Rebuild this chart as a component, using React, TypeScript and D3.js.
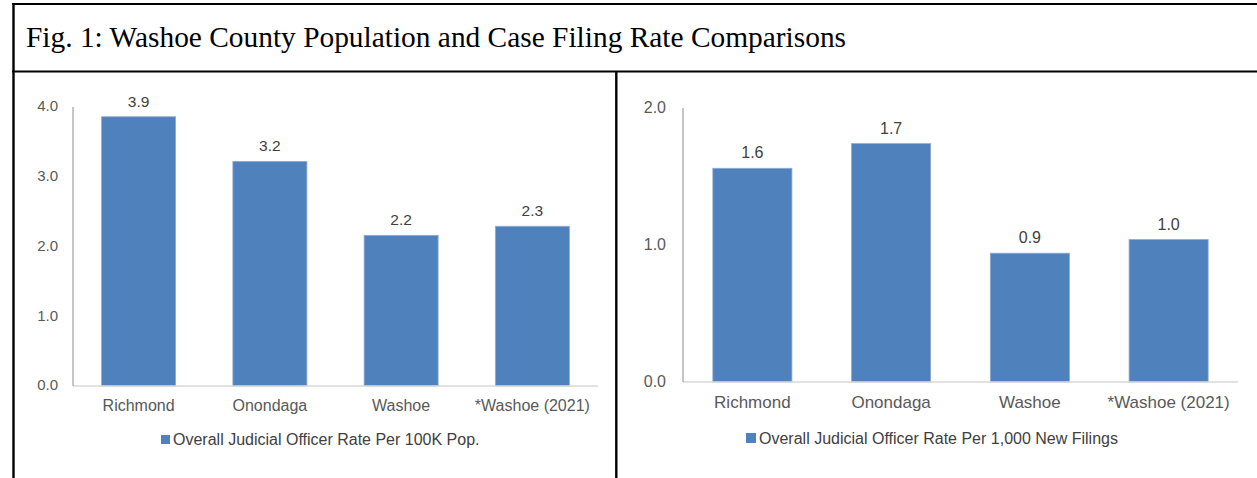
import React from "react";
import * as d3 from "d3";

const title = "Fig. 1: Washoe County Population and Case Filing Rate Comparisons";
const categories = ["Richmond", "Onondaga", "Washoe", "*Washoe (2021)"];
const popRates = [3.86, 3.22, 2.16, 2.29];
const filingRates = [1.56, 1.74, 0.94, 1.04];
const popTicks = [0, 1, 2, 3, 4];
const filingTicks = [0, 1, 2];
const popLegend = "Overall Judicial Officer Rate Per 100K Pop.";
const filingLegend = "Overall Judicial Officer Rate Per 1,000 New Filings";

const BAR = "#4F81BD";
const TXT = "#595959";
const FONT = "Arial, 'Liberation Sans', sans-serif";

type PanelProps = {
  values: number[];
  ticks: number[];
  yMax: number;
  x0: number;
  x1: number;
  yTop: number;
  yBase: number;
  pad: number;
  tickGap: number;
  tickFont: number;
  valFont: number;
  catFont: number;
  catDy: number;
  legend: string;
  legX: number;
  legY: number;
  legSize: number;
};

function Panel(p: PanelProps) {
  const x = d3.scaleBand<string>().domain(categories).range([p.x0, p.x1]).paddingInner(p.pad).paddingOuter(p.pad / 2);
  const y = d3.scaleLinear().domain([0, p.yMax]).range([p.yBase, p.yTop]);
  const fmt = d3.format(".1f");
  return (
    <g fontFamily={FONT}>
      {p.ticks.map((t) => (
        <text key={t} x={p.x0 - p.tickGap} y={y(t) - 1} dy="0.35em" textAnchor="end" fontSize={p.tickFont} fill={TXT}>
          {fmt(t)}
        </text>
      ))}
      {categories.map((c, i) => (
        <g key={c}>
          <rect
            x={x(c)!}
            y={y(p.values[i])}
            width={x.bandwidth()}
            height={y(0) - y(p.values[i])}
            fill={BAR}
            stroke="#8FAAD3"
            strokeWidth={0.8}
          />
          <text x={x(c)! + x.bandwidth() / 2} y={y(p.values[i]) - 10} textAnchor="middle" fontSize={p.valFont} fill={"#404040"}>
            {fmt(p.values[i])}
          </text>
          <text x={x(c)! + x.bandwidth() / 2} y={p.yBase + p.catDy} textAnchor="middle" fontSize={p.catFont} fill={TXT}>
            {c}
          </text>
        </g>
      ))}
      <line x1={p.x0} x2={p.x1} y1={p.yBase} y2={p.yBase} stroke="#D9D9D9" strokeWidth={1.5} />
      <line x1={p.x0} x2={p.x0} y1={p.yTop} y2={p.yBase} stroke="#8C8C8C" strokeWidth={1} />
      <rect x={p.legX} y={p.legY} width={p.legSize} height={p.legSize} fill={BAR} />
      <text x={p.legX + p.legSize + 3} y={p.legY + p.legSize + 1} fontSize={16} fill="#404040">
        {p.legend}
      </text>
    </g>
  );
}

export default function App() {
  return (
    <svg width={1257} height={478} style={{ position: "absolute", left: 0, top: 0, background: "#fff" }}>
      <rect width={1257} height={478} fill="#fff" />
      <text x={26} y={47} fontFamily="'Liberation Serif', 'Times New Roman', serif" fontSize={29.4} fill="#000">
        {title}
      </text>
      <Panel
        values={popRates}
        ticks={popTicks}
        yMax={4}
        x0={73}
        x1={598}
        yTop={107}
        yBase={386}
        pad={0.436}
        tickGap={15}
        tickFont={15}
        valFont={15.5}
        catFont={16}
        catDy={25}
        legend={popLegend}
        legX={161}
        legY={435}
        legSize={9}
      />
      <Panel
        values={filingRates}
        ticks={filingTicks}
        yMax={2}
        x0={683}
        x1={1238}
        yTop={108}
        yBase={382}
        pad={0.43}
        tickGap={17}
        tickFont={16}
        valFont={16}
        catFont={17}
        catDy={26}
        legend={filingLegend}
        legX={746}
        legY={433}
        legSize={10}
      />
      <line x1={12} x2={1257} y1={4} y2={4} stroke="#000" strokeWidth={2.2} />
      <line x1={12} x2={1257} y1={71.5} y2={71.5} stroke="#000" strokeWidth={2.2} />
      <line x1={13.5} x2={13.5} y1={3} y2={478} stroke="#000" strokeWidth={2.4} />
      <line x1={616.3} x2={616.3} y1={71} y2={478} stroke="#000" strokeWidth={2.4} />
    </svg>
  );
}
